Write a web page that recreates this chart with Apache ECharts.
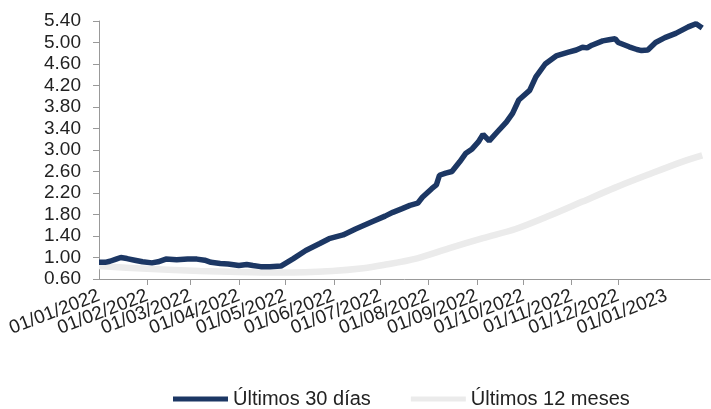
<!DOCTYPE html>
<html>
<head>
<meta charset="utf-8">
<script src="https://cdn.jsdelivr.net/npm/echarts@6/dist/echarts.min.js"></script>
<style>
html,body{margin:0;padding:0;background:#fff;}
#chart{width:711px;height:409px;}
</style>
</head>
<body>
<div id="chart"></div>
<script>
// Axis range (category days) and tick labels
const startDate = '01/01/2022';
const endDate = '29/01/2023';
const monthTicks = ['01/01/2022','01/02/2022','01/03/2022','01/04/2022','01/05/2022','01/06/2022','01/07/2022','01/08/2022','01/09/2022','01/10/2022','01/11/2022','01/12/2022','01/01/2023'];
const yMin = 0.6, yMax = 5.4, yStep = 0.4;

// Series: Últimos 30 días
const darkDates = ['01/01/2022','05/01/2022','08/01/2022','12/01/2022','15/01/2022','19/01/2022','24/01/2022','29/01/2022','04/02/2022','08/02/2022','13/02/2022','20/02/2022','27/02/2022','05/03/2022','10/03/2022','14/03/2022','20/03/2022','25/03/2022','01/04/2022','06/04/2022','10/04/2022','15/04/2022','21/04/2022','28/04/2022','06/05/2022','14/05/2022','23/05/2022','29/05/2022','07/06/2022','15/06/2022','26/06/2022','04/07/2022','09/07/2022','15/07/2022','20/07/2022','25/07/2022','28/07/2022','03/08/2022','06/08/2022','08/08/2022','12/08/2022','16/08/2022','21/08/2022','25/08/2022','29/08/2022','02/09/2022','05/09/2022','09/09/2022','14/09/2022','20/09/2022','24/09/2022','28/09/2022','05/10/2022','09/10/2022','15/10/2022','22/10/2022','30/10/2022','04/11/2022','08/11/2022','11/11/2022','14/11/2022','21/11/2022','25/11/2022','29/11/2022','01/12/2022','08/12/2022','13/12/2022','16/12/2022','20/12/2022','25/12/2022','31/12/2022','07/01/2023','11/01/2023','15/01/2023','20/01/2023','24/01/2023'];
const darkValues = [0.91,0.91,0.93,0.97,1.00,0.98,0.95,0.92,0.90,0.92,0.97,0.96,0.97,0.97,0.95,0.91,0.89,0.88,0.85,0.87,0.85,0.83,0.83,0.84,0.98,1.13,1.26,1.35,1.42,1.53,1.67,1.77,1.84,1.91,1.97,2.01,2.12,2.28,2.35,2.53,2.57,2.60,2.78,2.94,3.02,3.15,3.29,3.17,3.33,3.52,3.68,3.93,4.11,4.36,4.60,4.75,4.82,4.86,4.91,4.90,4.95,5.03,5.05,5.07,5.00,4.92,4.87,4.85,4.86,5.00,5.09,5.17,5.23,5.29,5.35,5.27];

// Series: Últimos 12 meses
const grayDates = ['01/01/2022','01/02/2022','07/03/2022','01/04/2022','29/04/2022','31/05/2022','20/06/2022','03/07/2022','24/07/2022','14/08/2022','05/09/2022','26/09/2022','18/10/2022','08/11/2022','29/11/2022','21/12/2022','11/01/2023','24/01/2023'];
const grayValues = [0.84,0.79,0.75,0.73,0.72,0.75,0.80,0.86,0.98,1.17,1.36,1.53,1.78,2.04,2.30,2.55,2.78,2.90];

function parseD(s){const p=s.split('/');return new Date(Date.UTC(+p[2],+p[1]-1,+p[0]));}
function fmtD(d){const dd=String(d.getUTCDate()).padStart(2,'0');const mm=String(d.getUTCMonth()+1).padStart(2,'0');return dd+'/'+mm+'/'+d.getUTCFullYear();}
const categories=[];
for(let d=parseD(startDate); d<=parseD(endDate); d=new Date(d.getTime()+86400000)) categories.push(fmtD(d));

const FONT = "'Liberation Sans', Arial, sans-serif";
const isTick = (i, v) => monthTicks.indexOf(v) >= 0;
const firstTick = monthTicks[0], lastTick = monthTicks[monthTicks.length-1];
const isEndTick = (i, v) => v === firstTick || v === lastTick;
const labelStyle = {rotate:21,margin:16,fontFamily:FONT,fontSize:19,color:'#222'};

const chart = echarts.init(document.getElementById('chart'), null, {renderer:'canvas'});
chart.setOption({
  animation:false,
  backgroundColor:'#ffffff',
  grid:{left:99,right:1,top:21,bottom:130,containLabel:false},
  legend:{
    top:384, left:168,
    itemWidth:55, itemHeight:5, itemGap:40,
    icon:'rect',
    textStyle:{fontFamily:FONT,fontSize:20,color:'#222'},
    data:['Últimos 30 días','Últimos 12 meses']
  },
  xAxis:[{
    type:'category', data:categories, boundaryGap:false,
    axisLine:{lineStyle:{color:'#999',width:1}},
    axisTick:{interval:isTick,length:6,lineStyle:{color:'#999'}},
    axisLabel:Object.assign({interval:isTick,showMinLabel:false,showMaxLabel:false}, labelStyle),
    splitLine:{show:false}
  },{
    type:'category', data:categories, boundaryGap:false, position:'bottom', offset:0,
    axisLine:{show:false}, axisTick:{show:false},
    axisLabel:Object.assign({interval:isEndTick}, labelStyle),
    splitLine:{show:false}
  }],
  yAxis:{
    type:'value', min:yMin, max:yMax, interval:yStep,
    axisLine:{show:true,lineStyle:{color:'#999',width:1}},
    axisTick:{show:true,length:6,lineStyle:{color:'#999'}},
    axisLabel:{margin:18,fontFamily:FONT,fontSize:19,color:'#222',formatter:v=>v.toFixed(2)},
    splitLine:{show:false}
  },
  series:[
    {name:'Últimos 30 días',type:'line',z:3,showSymbol:false,symbol:'none',
     itemStyle:{color:'#1c3764'},lineStyle:{color:'#1c3764',width:5.5},
     data:darkDates.map((d,i)=>[d,darkValues[i]])},
    {name:'Últimos 12 meses',type:'line',z:2,showSymbol:false,symbol:'none',smooth:0.3,
     itemStyle:{color:'#ebebeb'},lineStyle:{color:'#ebebeb',width:6.5},
     data:grayDates.map((d,i)=>[d,grayValues[i]])}
  ]
});
</script>
</body>
</html>
